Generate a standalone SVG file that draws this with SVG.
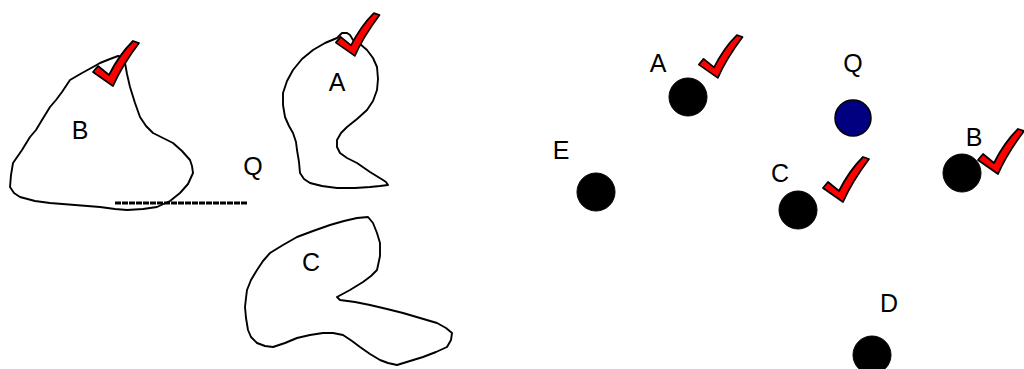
<svg xmlns="http://www.w3.org/2000/svg" width="1024" height="369" viewBox="0 0 1024 369">
  <style>
    .blob { fill: #ffffff; stroke: #000000; stroke-width: 1.9; stroke-linejoin: round; }
    .lbl { font-family: "Liberation Sans", Arial, sans-serif; font-size: 25px; fill: #000000; text-anchor: middle; }
    .dot { fill: #000000; stroke: #000000; stroke-width: 1; }
    .dotq { fill: #000080; stroke: #000000; stroke-width: 1.5; }
    .tick { fill: #ff0000; stroke: #000000; stroke-width: 1.8; stroke-linejoin: round; }
  </style>
  <defs>
    <!-- brush-style check mark, origin at its lowest point -->
    <path id="tick" class="tick" d="M -17,-12 L -12,-18 L -1,-9 C 5,-21 13,-33 23,-43 L 29,-41 C 20,-29 10,-14 3,2 Z"/>
  </defs>
  <rect width="1024" height="369" fill="#ffffff"/>

  <!-- left panel: region outlines -->
  <g id="regionB">
    <path class="blob" d="M118,56 L110,59 L100,63 L93,67 L82,73 L70,80 L62,92 L56,100 L50,107 L42,120 L36,130 L30,137 L22,150 L13,163 L11,175 L10,187 L14,193 L20,197 L35,201 L50,203 L75,205 L100,207 L115,209 L127,210 L143,209 L157,207 L170,201 L180,193 L188,184 L193,173 L192,166 L190,160 L182,151 L173,143 L163,138 L153,133 L146,126 L140,117 L135,103 L130,87 L127,74 L125,63 L122,57 Z"/>
    <text class="lbl" x="80" y="139">B</text>
    <use href="#tick" x="110" y="84"/>
  </g>

  <g id="regionA">
    <path class="blob" d="M337,38 L325,43 L313,50 L302,59 L293,70 L287,81 L283,93 L283,105 L285,117 L289,126 L293,133 L296,142 L297,150 L299,162 L300,173 L304,179 L310,183 L322,186 L337,188 L355,188 L370,187 L380,186 L388,185 L386,182 L383,180 L370,172 L357,163 L347,158 L340,153 L337,147 L337,140 L341,133 L347,127 L357,119 L367,110 L373,101 L377,90 L378,79 L377,67 L373,58 L367,50 L360,44 L353,40 L350,35 L347,33 L342,33 Z"/>
    <text class="lbl" x="337" y="91">A</text>
    <use href="#tick" x="352" y="54" transform="translate(352 54) scale(0.95) translate(-352 -54)"/>
  </g>

  <g id="labelQ">
    <text class="lbl" x="253" y="175">Q</text>
  </g>

  <g id="regionC">
    <path class="blob" d="M368,217 L373,223 L377,233 L380,243 L380,256 L377,270 L371,276 L363,282 L350,290 L337,297 L340,300 L355,302 L370,305 L387,309 L403,313 L420,318 L437,323 L446,328 L452,333 L451,340 L447,347 L436,352 L423,357 L410,361 L397,365 L388,363 L380,360 L370,354 L360,347 L352,341 L343,335 L333,333 L323,333 L310,335 L297,338 L285,343 L273,347 L265,346 L257,343 L251,337 L248,330 L246,318 L245,307 L246,298 L247,290 L251,280 L257,270 L263,261 L270,253 L283,245 L297,237 L313,231 L330,225 L344,221 L357,218 Z"/>
    <text class="lbl" x="311" y="271">C</text>
  </g>

  <!-- baseline segment beside Q -->
  <g id="connectors">
    <line x1="115" y1="203" x2="248" y2="203" stroke="#000000" stroke-width="3" stroke-dasharray="6 1"/>
  </g>

  <!-- right panel: point sites -->
  <g id="siteA">
    <circle class="dot" cx="688" cy="97" r="19"/>
    <text class="lbl" x="658" y="72">A</text>
    <use href="#tick" x="715" y="76" transform="translate(715 76) scale(0.95) translate(-715 -76)"/>
  </g>

  <g id="siteQ">
    <circle class="dotq" cx="853" cy="118" r="18"/>
    <text class="lbl" x="853" y="72">Q</text>
  </g>

  <g id="siteE">
    <circle class="dot" cx="596" cy="192" r="19"/>
    <text class="lbl" x="561" y="159">E</text>
  </g>

  <g id="siteC">
    <circle class="dot" cx="798" cy="210" r="19"/>
    <text class="lbl" x="780" y="182">C</text>
    <use href="#tick" x="840" y="200"/>
  </g>

  <g id="siteB">
    <circle class="dot" cx="962" cy="173" r="19"/>
    <text class="lbl" x="974" y="146">B</text>
    <use href="#tick" x="995" y="172"/>
  </g>

  <g id="siteD">
    <circle class="dot" cx="872" cy="355" r="19"/>
    <text class="lbl" x="889" y="312">D</text>
  </g>
</svg>
